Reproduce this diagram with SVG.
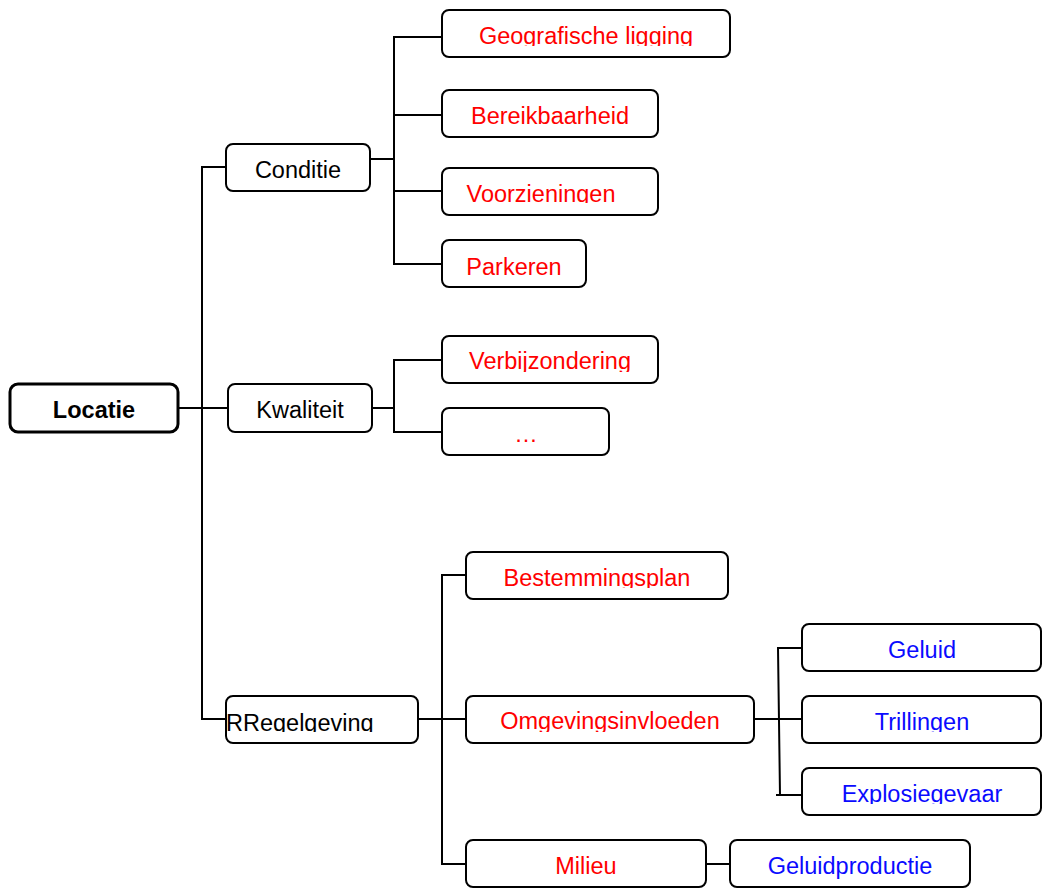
<svg xmlns="http://www.w3.org/2000/svg" width="1042" height="888" viewBox="0 0 1042 888">
  <style>
    .box { fill: #ffffff; stroke: #000000; stroke-width: 2; }
    .root { fill: #ffffff; stroke: #000000; stroke-width: 3; }
    .wire { fill: none; stroke: #000000; stroke-width: 2; }
    text { font-family: "Liberation Sans", Arial, sans-serif; font-size: 23.5px; text-anchor: middle; }
    .blk { fill: #000000; }
    .red { fill: #ff0000; }
    .blue { fill: #0a0aff; }
    .bold { font-weight: bold; }
  </style>
  <defs>
    <!-- labels whose descenders are cut off at the bottom -->
    <clipPath id="c-geo" clipPathUnits="userSpaceOnUse"><rect x="442" y="10" width="288" height="36"/></clipPath>
    <clipPath id="c-voor" clipPathUnits="userSpaceOnUse"><rect x="442" y="168" width="216" height="35"/></clipPath>
    <clipPath id="c-verb" clipPathUnits="userSpaceOnUse"><rect x="442" y="336" width="216" height="36"/></clipPath>
    <clipPath id="c-best" clipPathUnits="userSpaceOnUse"><rect x="466" y="552" width="262" height="36"/></clipPath>
    <clipPath id="c-regel" clipPathUnits="userSpaceOnUse"><rect x="220" y="696" width="198" height="36"/></clipPath>
    <clipPath id="c-omg" clipPathUnits="userSpaceOnUse"><rect x="466" y="696" width="288" height="36"/></clipPath>
    <clipPath id="c-tril" clipPathUnits="userSpaceOnUse"><rect x="802" y="696" width="240" height="36"/></clipPath>
    <clipPath id="c-expl" clipPathUnits="userSpaceOnUse"><rect x="802" y="768" width="240" height="36"/></clipPath>
  </defs>
  <rect width="1042" height="888" fill="#ffffff"/>

  <g id="connectors">
    <!-- root to first level -->
    <path class="wire" d="M178 408 H228"/>
    <path class="wire" d="M226 167 H202 V719 H226"/>
    <!-- Conditie branch -->
    <path class="wire" d="M370 159 H394"/>
    <path class="wire" d="M442 37 H394 V264 H442"/>
    <path class="wire" d="M394 115 H442"/>
    <path class="wire" d="M394 191 H442"/>
    <!-- Kwaliteit branch -->
    <path class="wire" d="M369 408 H394"/>
    <path class="wire" d="M442 360 H394 V432 H442"/>
    <!-- Regelgeving branch -->
    <path class="wire" d="M418 719 H466"/>
    <path class="wire" d="M466 575 H442 V864 H466"/>
    <!-- Omgevingsinvloeden branch -->
    <path class="wire" d="M754 719 H802"/>
    <path class="wire" d="M802 648 H778 L780 795 H802"/>
    <path class="wire" d="M776 795 H780"/>
    <!-- Milieu to Geluidproductie -->
    <path class="wire" d="M706 864 H730"/>
  </g>

  <g id="node-locatie">
    <rect class="root" x="10" y="384" width="168" height="48" rx="8"/>
    <text class="blk bold" x="94" y="417.5">Locatie</text>
  </g>

  <g id="node-conditie">
    <rect class="box" x="226" y="144" width="144" height="47" rx="7"/>
    <text class="blk" x="298" y="177.5">Conditie</text>
  </g>
  <g id="node-kwaliteit">
    <rect class="box" x="228" y="384" width="144" height="48" rx="7"/>
    <text class="blk" x="300" y="417.5">Kwaliteit</text>
  </g>
  <g id="node-regelgeving">
    <rect class="box" x="226" y="696" width="192" height="47" rx="7"/>
    <text class="blk" x="226" y="730.5" style="text-anchor:start" clip-path="url(#c-regel)">RRegelgeving</text>
  </g>

  <g id="node-geografische-ligging">
    <rect class="box" x="442" y="10" width="288" height="47" rx="7"/>
    <text class="red" x="586" y="44" clip-path="url(#c-geo)">Geografische ligging</text>
  </g>
  <g id="node-bereikbaarheid">
    <rect class="box" x="442" y="90" width="216" height="47" rx="7"/>
    <text class="red" x="550" y="124">Bereikbaarheid</text>
  </g>
  <g id="node-voorzieningen">
    <rect class="box" x="442" y="168" width="216" height="47" rx="7"/>
    <text class="red" x="541" y="201.5" clip-path="url(#c-voor)">Voorzieningen</text>
  </g>
  <g id="node-parkeren">
    <rect class="box" x="442" y="240" width="144" height="47" rx="7"/>
    <text class="red" x="514" y="274.5">Parkeren</text>
  </g>

  <g id="node-verbijzondering">
    <rect class="box" x="442" y="336" width="216" height="47" rx="7"/>
    <text class="red" x="550" y="369" clip-path="url(#c-verb)">Verbijzondering</text>
  </g>
  <g id="node-ellipsis">
    <rect class="box" x="442" y="408" width="167" height="47" rx="7"/>
    <text class="red" x="526" y="441.5">…</text>
  </g>

  <g id="node-bestemmingsplan">
    <rect class="box" x="466" y="552" width="262" height="47" rx="7"/>
    <text class="red" x="597" y="586" clip-path="url(#c-best)">Bestemmingsplan</text>
  </g>
  <g id="node-omgevingsinvloeden">
    <rect class="box" x="466" y="696" width="288" height="47" rx="7"/>
    <text class="red" x="610" y="729" clip-path="url(#c-omg)">Omgevingsinvloeden</text>
  </g>
  <g id="node-milieu">
    <rect class="box" x="466" y="840" width="240" height="47" rx="7"/>
    <text class="red" x="586" y="873.5">Milieu</text>
  </g>
  <g id="node-geluidproductie">
    <rect class="box" x="730" y="840" width="240" height="47" rx="7"/>
    <text class="blue" x="850" y="873.5">Geluidproductie</text>
  </g>

  <g id="node-geluid">
    <rect class="box" x="802" y="624" width="239" height="47" rx="7"/>
    <text class="blue" x="922" y="658">Geluid</text>
  </g>
  <g id="node-trillingen">
    <rect class="box" x="802" y="696" width="239" height="47" rx="7"/>
    <text class="blue" x="922" y="729.5" clip-path="url(#c-tril)">Trillingen</text>
  </g>
  <g id="node-explosiegevaar">
    <rect class="box" x="802" y="768" width="239" height="47" rx="7"/>
    <text class="blue" x="922" y="802" clip-path="url(#c-expl)">Explosiegevaar</text>
  </g>
</svg>
